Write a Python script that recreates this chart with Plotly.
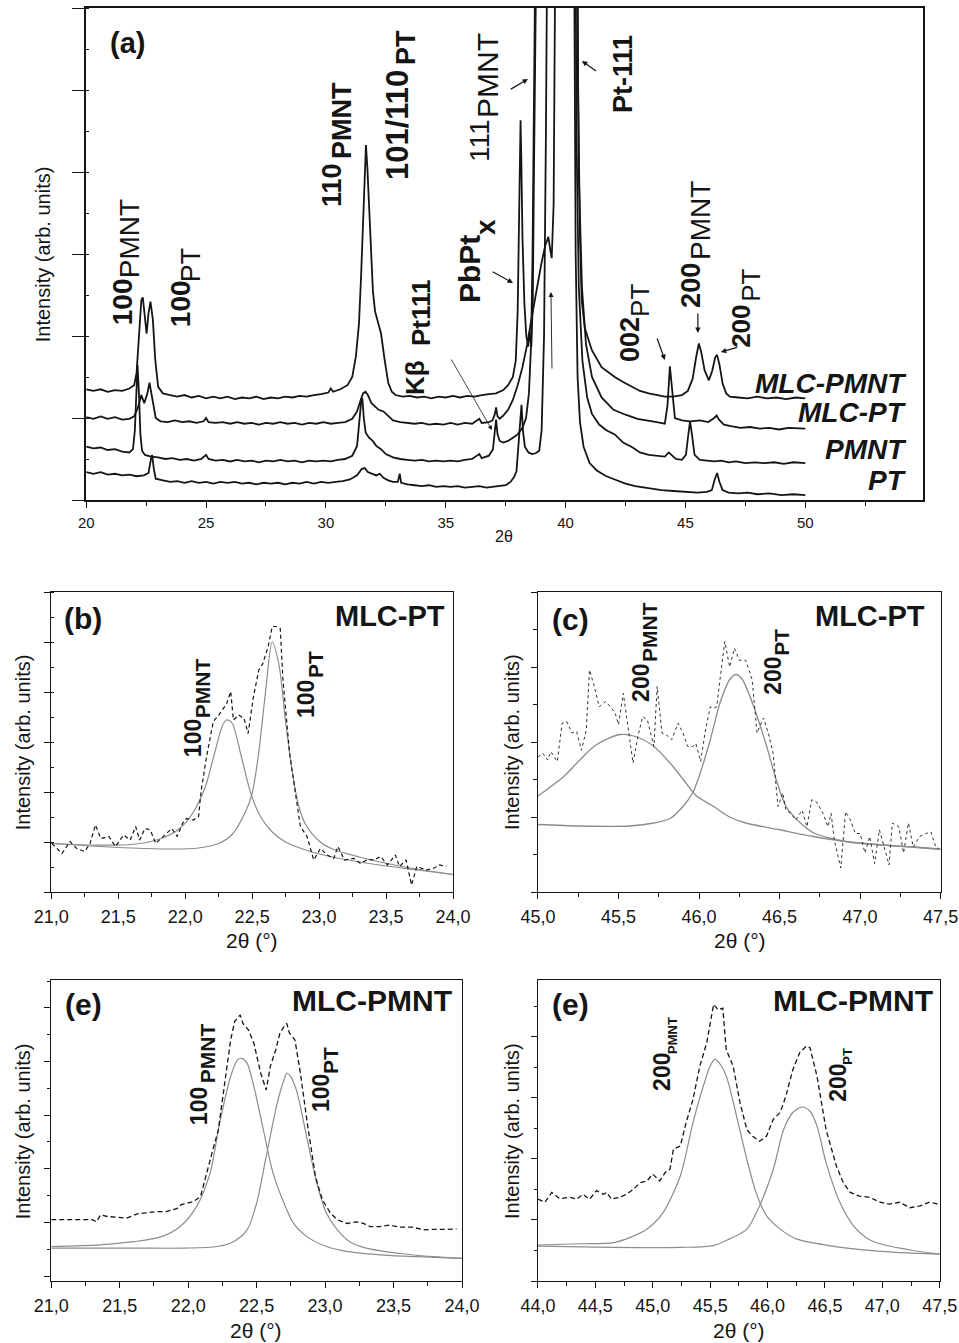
import plotly.graph_objects as go

W, H = 959, 1343
FONT = "Liberation Sans, Arial, sans-serif"
INK = "#151515"
FIT = "#8c8c8c"

# ---------------- (a) full 2θ scans of the four films (offset vertically) ----------------
a_mlc_pmnt = [
    (20.0, 1.35), (20.3, 1.33), (20.6, 1.35), (20.9, 1.32), (21.2, 1.34), (21.5, 1.33), (21.8, 1.36),
    (22.0, 1.40), (22.1, 1.55), (22.2, 2.03), (22.3, 2.44), (22.36, 2.47), (22.45, 2.20), (22.52, 2.03),
    (22.6, 2.28), (22.68, 2.42), (22.78, 2.20), (22.88, 1.71), (23.0, 1.38), (23.2, 1.30), (23.5, 1.28),
    (23.8, 1.26), (24.1, 1.28), (24.4, 1.25), (24.7, 1.27), (25.0, 1.24), (25.3, 1.26), (25.6, 1.24),
    (25.9, 1.26), (26.2, 1.23), (26.5, 1.25), (26.8, 1.24), (27.1, 1.26), (27.4, 1.23), (27.7, 1.25),
    (28.0, 1.24), (28.3, 1.26), (28.6, 1.25), (28.9, 1.27), (29.2, 1.26), (29.5, 1.28), (29.8, 1.29),
    (30.1, 1.31), (30.2, 1.36), (30.3, 1.32), (30.6, 1.35), (30.9, 1.40), (31.1, 1.50), (31.25, 1.75),
    (31.38, 2.15), (31.47, 2.75), (31.55, 3.35), (31.62, 3.95), (31.67, 4.33), (31.73, 4.05), (31.8, 3.55),
    (31.88, 3.00), (31.96, 2.55), (32.05, 2.30), (32.15, 2.18), (32.3, 2.03), (32.45, 1.71), (32.6, 1.43),
    (32.75, 1.32), (32.9, 1.28), (33.2, 1.26), (33.5, 1.27), (33.8, 1.25), (34.1, 1.26), (34.4, 1.24),
    (34.7, 1.26), (35.0, 1.25), (35.3, 1.27), (35.6, 1.25), (35.9, 1.27), (36.2, 1.26), (36.5, 1.28),
    (36.8, 1.29), (37.1, 1.30), (37.4, 1.34), (37.6, 1.40), (37.8, 1.50), (37.92, 1.70), (38.0, 2.30),
    (38.06, 3.40), (38.1, 4.30), (38.12, 4.63), (38.15, 4.20), (38.2, 3.20), (38.28, 2.40), (38.36, 2.00),
    (38.44, 1.87), (38.5, 2.05), (38.57, 1.87), (38.63, 2.40), (38.68, 4.00), (38.72, 7.0), (39.0, 12.0),
    (39.6, 30.0), (40.0, 40.0), (40.4, 12.0), (40.52, 5.0), (40.6, 3.2), (40.67, 2.44), (40.8, 2.10),
    (41.09, 1.83), (41.5, 1.62), (42.05, 1.50), (42.4, 1.44), (42.76, 1.38), (43.1, 1.33), (43.47, 1.30),
    (43.8, 1.28), (44.14, 1.26), (44.5, 1.26), (44.85, 1.28), (45.1, 1.33), (45.3, 1.48), (45.45, 1.75),
    (45.56, 1.91), (45.66, 1.80), (45.8, 1.58), (45.98, 1.46), (46.12, 1.58), (46.24, 1.74), (46.32, 1.77),
    (46.42, 1.65), (46.55, 1.42), (46.7, 1.30), (46.85, 1.26), (47.2, 1.25), (47.6, 1.24), (48.0, 1.26),
    (48.4, 1.24), (48.8, 1.25), (49.2, 1.23), (49.6, 1.25), (50.0, 1.24),
]
a_mlc_pt = [
    (20.0, 1.01), (20.3, 0.99), (20.6, 1.02), (20.9, 0.99), (21.2, 1.01), (21.5, 0.98), (21.8, 0.99),
    (22.0, 1.02), (22.15, 1.12), (22.3, 1.28), (22.42, 1.18), (22.55, 1.30), (22.64, 1.43), (22.72, 1.30),
    (22.8, 1.12), (22.9, 1.00), (23.1, 0.96), (23.4, 0.95), (23.7, 0.97), (24.0, 0.95), (24.3, 0.96),
    (24.6, 0.94), (24.9, 0.96), (25.0, 1.00), (25.1, 0.95), (25.4, 0.94), (25.7, 0.95), (26.0, 0.93),
    (26.3, 0.95), (26.6, 0.93), (26.9, 0.94), (27.2, 0.92), (27.5, 0.94), (27.8, 0.93), (28.1, 0.95),
    (28.4, 0.93), (28.7, 0.94), (29.0, 0.92), (29.3, 0.94), (29.6, 0.93), (29.9, 0.95), (30.2, 0.93),
    (30.5, 0.94), (30.8, 0.95), (31.1, 0.99), (31.3, 1.08), (31.45, 1.22), (31.55, 1.30), (31.65, 1.32),
    (31.75, 1.28), (31.9, 1.18), (32.05, 1.14), (32.2, 1.10), (32.4, 1.08), (32.6, 1.02), (32.8, 0.97),
    (33.1, 0.95), (33.4, 0.94), (33.7, 0.93), (34.0, 0.94), (34.3, 0.92), (34.6, 0.93), (34.9, 0.92),
    (35.2, 0.94), (35.5, 0.92), (35.8, 0.94), (36.1, 0.93), (36.4, 0.99), (36.5, 0.94), (36.8, 0.95),
    (36.95, 0.97), (37.05, 1.05), (37.1, 1.13), (37.16, 1.02), (37.25, 0.99), (37.4, 1.03), (37.6, 1.10),
    (37.8, 1.22), (38.0, 1.40), (38.2, 1.62), (38.4, 1.90), (38.6, 2.25), (38.8, 2.60), (39.0, 2.90),
    (39.15, 3.10), (39.28, 3.21), (39.36, 3.05), (39.42, 2.95), (39.5, 3.60), (39.58, 6.5), (39.8, 20.0),
    (40.1, 30.0), (40.45, 8.0), (40.55, 4.0), (40.68, 2.60), (40.85, 1.90), (41.1, 1.50), (41.5, 1.25),
    (42.0, 1.10), (42.5, 1.04), (43.0, 0.99), (43.47, 0.97), (43.8, 0.95), (44.14, 0.93), (44.25, 1.15),
    (44.35, 1.63), (44.45, 1.30), (44.56, 1.00), (44.85, 0.97), (45.2, 0.96), (45.6, 0.97), (45.95, 0.95),
    (46.2, 1.00), (46.3, 1.03), (46.4, 0.98), (46.6, 0.92), (46.9, 0.90), (47.3, 0.88), (47.7, 0.89),
    (48.1, 0.87), (48.5, 0.88), (48.9, 0.86), (49.3, 0.88), (49.7, 0.87), (50.0, 0.87),
]
a_pmnt = [
    (20.0, 0.65), (20.3, 0.63), (20.6, 0.64), (20.9, 0.61), (21.2, 0.62), (21.5, 0.59), (21.8, 0.58),
    (21.95, 0.62), (22.03, 0.85), (22.09, 1.35), (22.14, 1.65), (22.2, 1.30), (22.26, 0.80), (22.33, 0.60),
    (22.45, 0.55), (22.7, 0.53), (23.0, 0.52), (23.3, 0.50), (23.6, 0.51), (23.9, 0.49), (24.2, 0.50),
    (24.5, 0.48), (24.8, 0.50), (25.0, 0.55), (25.1, 0.50), (25.4, 0.48), (25.7, 0.49), (26.0, 0.47),
    (26.3, 0.49), (26.6, 0.47), (26.9, 0.48), (27.2, 0.46), (27.5, 0.48), (27.8, 0.47), (28.1, 0.49),
    (28.4, 0.47), (28.7, 0.48), (29.0, 0.46), (29.3, 0.48), (29.6, 0.47), (29.9, 0.48), (30.2, 0.47),
    (30.5, 0.49), (30.8, 0.50), (31.1, 0.54), (31.3, 0.66), (31.4, 0.95), (31.47, 1.20), (31.52, 1.24),
    (31.58, 1.00), (31.66, 0.82), (31.8, 0.76), (31.95, 0.72), (32.1, 0.66), (32.3, 0.62), (32.5, 0.56),
    (32.8, 0.52), (33.1, 0.50), (33.4, 0.49), (33.7, 0.48), (34.0, 0.49), (34.3, 0.47), (34.6, 0.48),
    (34.9, 0.47), (35.2, 0.48), (35.5, 0.47), (35.8, 0.49), (36.1, 0.50), (36.4, 0.56), (36.5, 0.51),
    (36.8, 0.54), (36.97, 0.62), (37.05, 0.85), (37.1, 0.98), (37.16, 0.80), (37.25, 0.72), (37.4, 0.70),
    (37.6, 0.72), (37.8, 0.76), (38.0, 0.80), (38.2, 0.88), (38.35, 1.00), (38.47, 1.30), (38.56, 1.90),
    (38.62, 3.0), (38.68, 5.0), (38.76, 9.0), (39.2, 25.0), (39.8, 40.0), (40.3, 15.0), (40.45, 4.5),
    (40.55, 2.6), (40.7, 1.70), (40.9, 1.25), (41.1, 1.05), (41.4, 0.92), (41.7, 0.85), (42.05, 0.80),
    (42.4, 0.70), (42.8, 0.64), (43.1, 0.58), (43.47, 0.55), (43.8, 0.54), (44.14, 0.53), (44.3, 0.58),
    (44.42, 0.55), (44.6, 0.50), (44.85, 0.49), (45.02, 0.55), (45.1, 0.75), (45.19, 0.96), (45.27, 0.80),
    (45.38, 0.55), (45.6, 0.49), (45.9, 0.48), (46.2, 0.47), (46.5, 0.48), (46.8, 0.46), (47.1, 0.47),
    (47.5, 0.45), (47.9, 0.46), (48.3, 0.45), (48.7, 0.46), (49.1, 0.44), (49.5, 0.46), (50.0, 0.45),
]
a_pt = [
    (20.0, 0.34), (20.3, 0.32), (20.6, 0.34), (20.9, 0.31), (21.2, 0.32), (21.5, 0.30), (21.8, 0.31),
    (22.1, 0.29), (22.4, 0.30), (22.6, 0.33), (22.7, 0.50), (22.75, 0.55), (22.82, 0.38), (22.9, 0.26),
    (23.2, 0.24), (23.5, 0.22), (23.8, 0.23), (24.1, 0.21), (24.4, 0.23), (24.7, 0.21), (25.0, 0.22),
    (25.3, 0.20), (25.6, 0.22), (25.9, 0.21), (26.2, 0.22), (26.5, 0.20), (26.8, 0.21), (27.1, 0.19),
    (27.4, 0.21), (27.7, 0.20), (28.0, 0.21), (28.3, 0.19), (28.6, 0.21), (28.9, 0.20), (29.2, 0.22),
    (29.5, 0.20), (29.8, 0.22), (30.1, 0.21), (30.4, 0.22), (30.7, 0.23), (31.0, 0.25), (31.3, 0.30),
    (31.5, 0.38), (31.62, 0.39), (31.75, 0.34), (31.9, 0.32), (32.1, 0.30), (32.25, 0.32), (32.4, 0.27),
    (32.6, 0.24), (32.8, 0.22), (33.0, 0.22), (33.08, 0.32), (33.14, 0.21), (33.4, 0.19), (33.7, 0.18),
    (34.0, 0.17), (34.3, 0.18), (34.6, 0.16), (34.9, 0.17), (35.2, 0.16), (35.5, 0.17), (35.8, 0.15),
    (36.1, 0.16), (36.4, 0.17), (36.7, 0.15), (37.0, 0.16), (37.3, 0.17), (37.5, 0.18), (37.7, 0.22),
    (37.85, 0.28), (37.95, 0.35), (38.05, 0.75), (38.12, 1.10), (38.16, 1.16), (38.22, 0.85), (38.3, 0.65),
    (38.45, 0.58), (38.6, 0.56), (38.75, 0.57), (38.9, 0.60), (39.0, 0.85), (39.1, 2.0), (39.18, 4.5),
    (39.26, 8.0), (39.6, 25.0), (40.0, 40.0), (40.3, 10.0), (40.42, 3.0), (40.5, 1.5), (40.6, 0.95),
    (40.75, 0.65), (41.0, 0.45), (41.3, 0.36), (41.7, 0.29), (42.05, 0.25), (42.5, 0.20), (42.9, 0.17),
    (43.47, 0.14), (44.0, 0.12), (44.5, 0.11), (45.0, 0.10), (45.5, 0.09), (45.9, 0.10), (46.1, 0.12),
    (46.22, 0.25), (46.32, 0.33), (46.42, 0.22), (46.55, 0.12), (46.8, 0.09), (47.2, 0.08), (47.6, 0.09),
    (48.0, 0.07), (48.5, 0.08), (49.0, 0.06), (49.5, 0.07), (50.0, 0.06),
]
a_sample_names = ["MLC-PMNT", "MLC-PT", "PMNT", "PT"]

# ---------------- (b) MLC-PT, 100 reflections ----------------
b_data = [
    (21.005, 0.97), (21.08, 0.77), (21.14, 1.01), (21.19, 0.87), (21.25, 0.81), (21.29, 0.97), (21.33, 1.34),
    (21.37, 1.07), (21.43, 1.11), (21.48, 0.91), (21.54, 1.14), (21.59, 1.04), (21.63, 1.31), (21.66, 1.04),
    (21.70, 1.27), (21.74, 1.24), (21.78, 0.97), (21.81, 1.04), (21.86, 1.17), (21.90, 1.27), (21.94, 1.11),
    (21.98, 1.37), (22.01, 1.47), (22.06, 1.44), (22.10, 1.51), (22.12, 2.04), (22.16, 2.71), (22.21, 3.41),
    (22.26, 3.57), (22.31, 3.77), (22.34, 4.01), (22.36, 3.44), (22.40, 3.54), (22.44, 3.47), (22.47, 3.17),
    (22.51, 3.91), (22.55, 4.44), (22.58, 4.57), (22.62, 4.91), (22.65, 5.31), (22.68, 5.31), (22.71, 5.27),
    (22.73, 4.24), (22.78, 2.77), (22.83, 1.91), (22.86, 1.31), (22.91, 1.11), (22.96, 0.64), (23.01, 0.87),
    (23.06, 0.74), (23.11, 0.67), (23.14, 0.91), (23.19, 0.64), (23.26, 0.67), (23.31, 0.57), (23.36, 0.65),
    (23.41, 0.64), (23.46, 0.71), (23.51, 0.54), (23.57, 0.74), (23.60, 0.51), (23.65, 0.64), (23.69, 0.14),
    (23.73, 0.51), (23.80, 0.44), (23.85, 0.47), (23.90, 0.54), (23.95, 0.51),
]
b_fit_pmnt = [
    (21.0, 0.97), (21.3, 0.94), (21.6, 0.95), (21.8, 1.05), (21.95, 1.25), (22.05, 1.55), (22.15, 2.10),
    (22.22, 2.78), (22.28, 3.34), (22.31, 3.44), (22.35, 3.38), (22.42, 2.70), (22.49, 1.97), (22.56, 1.52),
    (22.65, 1.20), (22.75, 1.00), (22.9, 0.84), (23.1, 0.70), (23.4, 0.56), (23.7, 0.45), (24.0, 0.35),
]
b_fit_pt = [
    (21.0, 0.97), (21.3, 0.92), (21.6, 0.88), (21.9, 0.86), (22.1, 0.88), (22.25, 0.97), (22.35, 1.15),
    (22.45, 1.60), (22.5, 1.97), (22.55, 2.80), (22.6, 4.00), (22.65, 5.00), (22.7, 4.55), (22.75, 3.40),
    (22.8, 2.40), (22.85, 1.70), (22.9, 1.35), (23.0, 1.02), (23.1, 0.86), (23.3, 0.70), (23.6, 0.52),
    (24.0, 0.35),
]

# ---------------- (c) MLC-PT, 200 reflections ----------------
c_data = [
    (45.00, 1.80), (45.03, 1.85), (45.06, 1.76), (45.08, 1.87), (45.12, 1.74), (45.15, 2.25), (45.18, 2.27),
    (45.21, 2.12), (45.24, 2.14), (45.27, 1.89), (45.30, 2.16), (45.32, 2.96), (45.35, 2.74), (45.38, 2.47),
    (45.42, 2.54), (45.45, 2.47), (45.48, 2.38), (45.50, 2.23), (45.53, 2.65), (45.56, 2.20), (45.59, 1.72),
    (45.62, 2.07), (45.65, 2.34), (45.68, 2.29), (45.72, 1.94), (45.74, 2.74), (45.77, 2.12), (45.80, 2.09),
    (45.83, 2.03), (45.87, 2.25), (45.90, 2.12), (45.93, 1.94), (45.96, 1.94), (45.98, 1.98), (46.01, 1.74),
    (46.04, 2.16), (46.07, 2.47), (46.09, 2.45), (46.11, 2.47), (46.13, 2.83), (46.16, 3.34), (46.19, 3.00),
    (46.22, 3.25), (46.25, 3.09), (46.29, 3.09), (46.33, 2.83), (46.36, 2.12), (46.40, 2.32), (46.43, 2.12),
    (46.46, 1.85), (46.49, 1.14), (46.52, 1.32), (46.54, 1.09), (46.57, 1.05), (46.60, 0.96), (46.64, 1.09),
    (46.67, 0.87), (46.70, 1.23), (46.73, 1.20), (46.77, 1.05), (46.80, 0.87), (46.82, 1.05), (46.84, 0.69),
    (46.88, 0.32), (46.91, 1.07), (46.94, 0.96), (46.97, 0.78), (47.00, 0.78), (47.03, 0.52), (47.06, 0.74),
    (47.09, 0.38), (47.12, 0.83), (47.15, 0.60), (47.18, 0.36), (47.20, 0.92), (47.24, 0.87), (47.27, 0.52),
    (47.30, 0.92), (47.33, 0.60), (47.37, 0.74), (47.41, 0.78), (47.44, 0.80), (47.47, 0.60), (47.49, 0.58),
]
c_fit_pmnt = [
    (45.0, 1.28), (45.16, 1.54), (45.26, 1.76), (45.36, 1.96), (45.51, 2.10), (45.61, 2.07), (45.72, 1.94),
    (45.82, 1.72), (45.92, 1.45), (45.98, 1.29), (46.09, 1.14), (46.19, 1.00), (46.29, 0.92), (46.5, 0.83),
    (46.71, 0.74), (46.92, 0.67), (47.12, 0.63), (47.33, 0.60), (47.5, 0.57),
]
c_fit_pt = [
    (45.0, 0.90), (45.26, 0.88), (45.57, 0.88), (45.72, 0.92), (45.82, 0.98), (45.90, 1.14), (45.96, 1.32),
    (46.00, 1.54), (46.07, 2.03), (46.13, 2.52), (46.19, 2.83), (46.23, 2.90), (46.27, 2.83), (46.34, 2.47),
    (46.42, 1.94), (46.48, 1.49), (46.54, 1.14), (46.63, 0.92), (46.71, 0.79), (46.81, 0.72), (46.92, 0.67),
    (47.12, 0.63), (47.5, 0.57),
]

# ---------------- (e) MLC-PMNT, 100 reflections ----------------
e1_data = [
    (21.00, 1.05), (21.11, 1.05), (21.21, 1.06), (21.30, 1.05), (21.33, 1.01), (21.36, 1.14), (21.41, 1.11),
    (21.48, 1.10), (21.55, 1.08), (21.63, 1.16), (21.70, 1.18), (21.77, 1.20), (21.84, 1.20), (21.92, 1.26),
    (21.95, 1.33), (21.99, 1.36), (22.04, 1.39), (22.09, 1.48), (22.14, 1.98), (22.18, 2.35), (22.22, 2.72),
    (22.26, 3.47), (22.31, 4.40), (22.34, 4.75), (22.38, 4.87), (22.40, 4.71), (22.44, 4.59), (22.48, 4.34),
    (22.53, 3.78), (22.57, 3.47), (22.60, 3.91), (22.64, 4.22), (22.67, 4.53), (22.70, 4.65), (22.72, 4.71),
    (22.74, 4.53), (22.78, 4.40), (22.82, 3.78), (22.87, 2.85), (22.93, 1.85), (22.98, 1.42), (23.04, 1.17),
    (23.09, 1.05), (23.16, 0.98), (23.23, 1.01), (23.28, 0.98), (23.33, 0.92), (23.40, 0.92), (23.47, 0.95),
    (23.55, 0.91), (23.64, 0.91), (23.72, 0.86), (23.79, 0.87), (23.89, 0.87), (23.96, 0.88),
]
e1_fit_pmnt = [
    (21.00, 0.55), (21.36, 0.58), (21.60, 0.64), (21.80, 0.73), (21.94, 0.92), (22.06, 1.29), (22.16, 1.92),
    (22.23, 2.85), (22.31, 3.72), (22.36, 4.03), (22.39, 4.06), (22.43, 3.97), (22.48, 3.53), (22.55, 2.72),
    (22.62, 1.92), (22.70, 1.36), (22.77, 0.98), (22.87, 0.73), (23.01, 0.55), (23.18, 0.45), (23.43, 0.39),
    (23.67, 0.36), (24.00, 0.33),
]
e1_fit_pt = [
    (21.00, 0.52), (21.60, 0.52), (21.97, 0.52), (22.21, 0.55), (22.33, 0.64), (22.43, 0.86), (22.50, 1.36),
    (22.57, 2.23), (22.65, 3.22), (22.70, 3.66), (22.72, 3.78), (22.74, 3.75), (22.79, 3.47), (22.87, 2.54),
    (22.94, 1.73), (23.01, 1.17), (23.09, 0.86), (23.18, 0.64), (23.30, 0.52), (23.55, 0.42), (23.79, 0.36),
    (24.00, 0.33),
]

# ---------------- (e) MLC-PMNT, 200 reflections ----------------
e2_data = [
    (44.00, 1.34), (44.06, 1.29), (44.12, 1.45), (44.19, 1.35), (44.28, 1.37), (44.34, 1.34), (44.39, 1.42),
    (44.45, 1.34), (44.51, 1.48), (44.57, 1.42), (44.60, 1.45), (44.64, 1.34), (44.71, 1.37), (44.77, 1.42),
    (44.83, 1.50), (44.89, 1.61), (44.95, 1.64), (45.00, 1.75), (45.06, 1.64), (45.11, 1.78), (45.15, 1.83),
    (45.18, 2.16), (45.24, 2.21), (45.29, 2.59), (45.35, 2.97), (45.41, 3.52), (45.47, 3.90), (45.51, 4.28),
    (45.53, 4.53), (45.57, 4.44), (45.61, 4.47), (45.64, 3.79), (45.70, 3.52), (45.76, 2.92), (45.82, 2.48),
    (45.87, 2.37), (45.93, 2.29), (45.99, 2.37), (46.05, 2.65), (46.11, 2.76), (46.16, 3.03), (46.22, 3.46),
    (46.28, 3.74), (46.34, 3.85), (46.37, 3.82), (46.43, 3.36), (46.51, 2.48), (46.60, 1.88), (46.66, 1.61),
    (46.72, 1.45), (46.80, 1.39), (46.89, 1.37), (46.98, 1.29), (47.06, 1.26), (47.15, 1.29), (47.24, 1.20),
    (47.33, 1.23), (47.41, 1.29), (47.49, 1.26),
]
e2_fit_pmnt = [
    (44.00, 0.59), (44.37, 0.61), (44.66, 0.63), (44.80, 0.71), (44.95, 0.85), (45.09, 1.12), (45.24, 1.72),
    (45.35, 2.59), (45.44, 3.19), (45.50, 3.52), (45.54, 3.63), (45.58, 3.57), (45.64, 3.36), (45.73, 2.70),
    (45.82, 1.99), (45.90, 1.45), (45.99, 1.07), (46.11, 0.85), (46.25, 0.69), (46.54, 0.58), (46.83, 0.51),
    (47.12, 0.47), (47.50, 0.44),
]
e2_fit_pt = [
    (44.00, 0.57), (44.66, 0.55), (45.24, 0.55), (45.53, 0.58), (45.67, 0.69), (45.82, 0.85), (45.93, 1.23),
    (46.05, 1.83), (46.14, 2.48), (46.22, 2.76), (46.30, 2.85), (46.37, 2.78), (46.43, 2.54), (46.51, 1.94),
    (46.63, 1.29), (46.75, 0.90), (46.86, 0.71), (46.98, 0.61), (47.27, 0.50), (47.50, 0.44),
]


def cols(pairs):
    return [p[0] for p in pairs], [p[1] for p in pairs]


# horizontal placement: layout x positions are spread about the page centre
CX, SPREAD = 479.5, 1 / 0.963


def hx(px):
    return CX + (px - CX) * SPREAD


def fx(px):
    return min(hx(px) / W, 0.9996)


def fy(py):
    return 1 - py / H


fig = go.Figure()


def add_line(pairs, ax, color=INK, width=1.8, dash="solid", shape="linear"):
    xs, ys = cols(pairs)
    fig.add_trace(go.Scatter(
        x=xs, y=ys, mode="lines", xaxis="x" + ax, yaxis="y" + ax,
        line=dict(color=color, width=width, dash=dash, shape=shape, smoothing=0.8),
        showlegend=False, hoverinfo="skip",
    ))


# panel (a)
for series in (a_pt, a_pmnt, a_mlc_pt, a_mlc_pmnt):
    add_line(series, "", width=1.8)

# panel (b)
add_line(b_fit_pmnt, "2", color=FIT, width=1.2, shape="spline")
add_line(b_fit_pt, "2", color=FIT, width=1.2, shape="spline")
add_line(b_data, "2", color=INK, width=1.2, dash="4px,3px")

# panel (c)
add_line(c_fit_pmnt, "3", color=FIT, width=1.3, shape="spline")
add_line(c_fit_pt, "3", color=FIT, width=1.3, shape="spline")
add_line(c_data, "3", color="#333333", width=1.0, dash="dot")

# panel (e) left
add_line(e1_fit_pmnt, "4", color=FIT, width=1.2, shape="spline")
add_line(e1_fit_pt, "4", color=FIT, width=1.2, shape="spline")
add_line(e1_data, "4", color=INK, width=1.3, dash="5px,3px")

# panel (e) right
add_line(e2_fit_pmnt, "5", color=FIT, width=1.2, shape="spline")
add_line(e2_fit_pt, "5", color=FIT, width=1.2, shape="spline")
add_line(e2_data, "5", color=INK, width=1.3, dash="5px,3px")


def xaxis(dom, rng, dtick, mdtick, anchor, size, lw, fmt=None):
    d = dict(
        domain=[fx(dom[0]), fx(dom[1])], range=rng, anchor=anchor,
        tick0=rng[0], dtick=dtick, ticks="outside", ticklen=6, tickwidth=1.2, tickcolor=INK,
        showline=True, linecolor=INK, linewidth=lw, mirror=True,
        showgrid=False, zeroline=False, ticklabelstandoff=2, ticklabeloverflow="allow",
        tickfont=dict(family=FONT, size=size, color=INK),
        minor=dict(dtick=mdtick, ticks="outside", ticklen=4, tickwidth=1, tickcolor=INK, showgrid=False),
    )
    if fmt:
        d["tickformat"] = fmt
    return d


def yaxis(dom, rng, anchor, lw, majlen, minor_side, minlen):
    return dict(
        domain=[fy(dom[1]), fy(dom[0])], range=rng, anchor=anchor,
        tick0=0, dtick=1, ticks="outside", ticklen=majlen, tickwidth=1.2, tickcolor=INK,
        showticklabels=False, showline=True, linecolor=INK, linewidth=lw, mirror=True,
        showgrid=False, zeroline=False,
        minor=dict(dtick=0.5, ticks=minor_side, ticklen=minlen, tickwidth=1, tickcolor=INK, showgrid=False),
    )


fig.update_layout(
    width=W, height=H, margin=dict(l=0, r=0, t=0, b=0),
    paper_bgcolor="white", plot_bgcolor="white", separators=",.",
    font=dict(family=FONT, color=INK),
    xaxis=xaxis((86, 923), [20, 54.9], 5, 2.5, "y", 15, 2),
    yaxis=yaxis((8, 500), [0, 6], "x", 2, 12, "inside", 3),
    xaxis2=xaxis((51, 453), [21, 24], 0.5, 0.25, "y2", 18, 1.2, ".1f"),
    yaxis2=yaxis((592, 892), [0, 6], "x2", 1.2, 6, "inside", 3),
    xaxis3=xaxis((538, 941), [45, 47.5], 0.5, 0.25, "y3", 18, 1.2, ".1f"),
    yaxis3=yaxis((592, 892), [0, 4], "x3", 1.2, 6, "outside", 4),
    xaxis4=xaxis((51, 462), [21, 24], 0.5, 0.25, "y4", 18, 1.2, ".1f"),
    yaxis4=yaxis((980, 1281), [-0.093, 5.52], "x4", 1.2, 6, "outside", 3),
    xaxis5=xaxis((538, 940), [44, 47.5], 0.5, 0.25, "y5", 18, 1.2, ".1f"),
    yaxis5=yaxis((980, 1281), [0, 4.93], "x5", 1.2, 6, "outside", 3),
)

ann = []


def text(t, x, y, size, angle=0, bold=True, italic=False, xanchor="center", yanchor="middle"):
    if bold:
        t = "<b>" + t + "</b>"
    if italic:
        t = "<i>" + t + "</i>"
    ann.append(dict(
        text=t, x=fx(x), y=fy(y), xref="paper", yref="paper", showarrow=False,
        textangle=angle, xanchor=xanchor, yanchor=yanchor,
        font=dict(family=FONT, size=size, color=INK),
    ))


def arrow(head, tail, width=1.2, size=0.9):
    ann.append(dict(
        text="", x=fx(head[0]), y=fy(head[1]), xref="paper", yref="paper",
        ax=hx(tail[0]) - hx(head[0]), ay=tail[1] - head[1], showarrow=True,
        arrowhead=2, arrowsize=size, arrowwidth=width, arrowcolor=INK,
    ))


# axis titles
text("Intensity (arb. units)", 43, 254, 20, angle=-90, bold=False)
text("Intensity (arb. units)", 23, 742, 20, angle=-90, bold=False)
text("Intensity (arb. units)", 512, 742, 20, angle=-90, bold=False)
text("Intensity (arb. units)", 23, 1131, 20, angle=-90, bold=False)
text("Intensity (arb. units)", 512, 1131, 20, angle=-90, bold=False)
text("2θ", 504, 536, 16, bold=False)
text("2θ (°)", 252, 940, 21, bold=False)
text("2θ (°)", 740, 940, 21, bold=False)
text("2θ (°)", 256, 1330, 21, bold=False)
text("2θ (°)", 739, 1330, 21, bold=False)

# panel tags and sample names
text("(a)", 127, 43, 29)
text("(b)", 83, 618, 30)
text("(c)", 571, 619, 30)
text("(e)", 83, 1004, 30)
text("(e)", 571, 1004, 30)
text("MLC-PT", 447, 616, 29, xanchor="right")
text("MLC-PT", 927, 616, 29, xanchor="right")
text("MLC-PMNT", 454, 1000, 30, xanchor="right")
text("MLC-PMNT", 935, 1000, 30, xanchor="right")
for name, yc in zip(a_sample_names, (383, 413, 449, 481)):
    text(name, 909, yc, 28, italic=True, xanchor="right")

# reflection labels in (a), written bottom-to-top
R = -90
text("100", 122, 302, 28, R); text("PMNT", 130, 239, 28, R, bold=False)
text("100", 181, 304, 28, R); text("PT", 191, 265, 27, R, bold=False)
text("110", 332, 185, 27, R); text("PMNT", 342, 121, 27, R)
text("101/110", 397, 125, 31, R); text("PT", 406, 48, 27, R)
text("111", 480, 140, 28, R, bold=False); text("PMNT", 488, 75, 30, R, bold=False)
text("PbPt", 469, 269, 30, R); text("x", 486, 227, 28, R)
text("Kβ", 415, 378, 26, R); text("Pt111", 421, 313, 26, R)
text("Pt-111", 623, 74, 27, R)
text("002", 630, 339, 27, R); text("PT", 640, 300, 26, R, bold=False)
text("200", 691, 285, 27, R); text("PMNT", 701, 220, 28, R, bold=False)
text("200", 741, 326, 26, R); text("PT", 751, 285, 26, R, bold=False)

# reflection labels in (b), (c), (e)
text("100", 193, 738, 23, R); text("PMNT", 203, 688, 21, R)
text("100", 306, 699, 23, R); text("PT", 315, 665, 21, R)
text("200", 641, 683, 23, R); text("PMNT", 649, 632, 21, R)
text("200", 773, 676, 23, R); text("PT", 781, 642, 21, R)
text("100", 199, 1106, 23, R); text("PMNT", 207, 1053, 21, R)
text("100", 321, 1093, 23, R); text("PT", 330, 1061, 21, R)
text("200", 662, 1072, 23, R); text("PMNT", 672, 1035, 13, R)
text("200", 838, 1083, 23, R); text("PT", 847, 1056, 13, R)

# pointers in (a)
arrow((528, 79), (510, 90))
arrow((582, 61), (597, 72))
arrow((513, 283), (492, 271))
arrow((492, 430), (452, 358), width=0.8, size=1.1)
arrow((551, 292), (552, 370), width=0.9, size=1.1)
arrow((665, 360), (657, 337))
arrow((698, 333), (698, 312))
arrow((721, 352), (738, 347))

fig.update_layout(annotations=ann)
fig.write_html("out.html")
